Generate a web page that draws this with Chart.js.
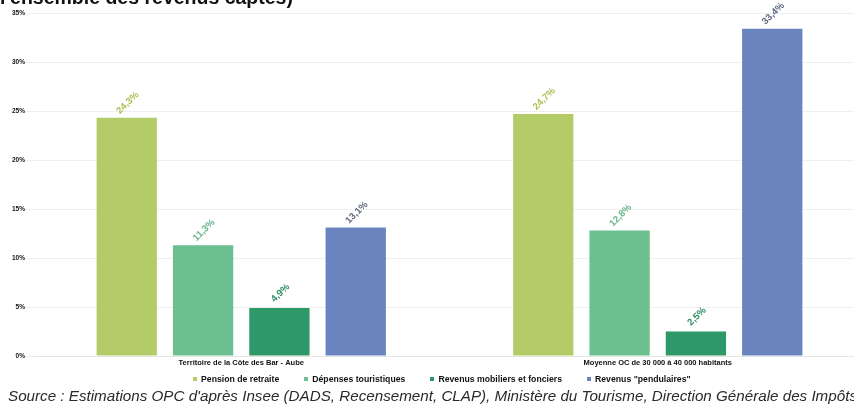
<!DOCTYPE html>
<html lang="fr">
<head>
<meta charset="utf-8">
<script src="https://cdn.jsdelivr.net/npm/chart.js@4/dist/chart.umd.min.js"></script>
<style>
  html, body { margin: 0; padding: 0; background: #fff; overflow: hidden; width: 854px; height: 405px; }
  #wrap { position: relative; width: 854px; height: 405px; overflow: hidden; }
  #chart { position: absolute; left: 0; top: 0; }
  .title { position: absolute; left: 0; top: -14px; font: bold 19.5px "Liberation Sans", Arial, sans-serif; color: #111; white-space: nowrap; }
  .source { position: absolute; left: 8px; top: 387px; font: italic 15.2px "Liberation Sans", Arial, sans-serif; color: #2a2a2a; white-space: nowrap; }
  #legend { position: absolute; left: 193px; top: 374px; display: flex; gap: 25px; font: bold 8.7px "Liberation Sans", Arial, sans-serif; color: #111; white-space: nowrap; }
  #legend span.item { display: flex; align-items: center; }
  #legend i { display: inline-block; width: 4px; height: 4px; margin-right: 4px; }
</style>
</head>
<body>
<div id="wrap">
  <canvas id="chart" width="866" height="405"></canvas>
  <div class="title">l'ensemble des revenus captés)</div>
  <div id="legend"></div>
  <div class="source">Source : Estimations OPC d'après Insee (DADS, Recensement, CLAP), Ministère du Tourisme, Direction Générale des Impôts</div>
</div>
<script>
const categories = ['Territoire de la Côte des Bar - Aube', 'Moyenne OC de 30 000 à 40 000 habitants'];
const seriesNames = ['Pension de retraite', 'Dépenses touristiques', 'Revenus mobiliers et fonciers', 'Revenus "pendulaires"'];
const pension = [24.3, 24.7];
const depenses = [11.3, 12.8];
const mobiliers = [4.9, 2.5];
const pendulaires = [13.1, 33.4];
const yTicks = [0, 5, 10, 15, 20, 25, 30, 35];

const barColors = ['#b4cc68', '#6cbf8e', '#2f9869', '#6a84bf'];
const labelColors = ['#a9c152', '#67b58a', '#2e8c62', '#5f6880'];

// rotated value labels above each bar
const valueLabels = {
  id: 'valueLabels',
  afterDatasetsDraw(chart) {
    const ctx = chart.ctx;
    chart.data.datasets.forEach((ds, i) => {
      chart.getDatasetMeta(i).data.forEach((bar, j) => {
        const txt = ds.data[j].toFixed(1).replace('.', ',') + '%';
        ctx.save();
        ctx.translate(bar.x + 1, bar.y - 15);
        ctx.rotate(-Math.PI / 4);
        ctx.font = 'bold 9.5px "Liberation Sans", Arial, sans-serif';
        ctx.fillStyle = labelColors[i];
        ctx.textAlign = 'center';
        ctx.textBaseline = 'middle';
        ctx.fillText(txt, 0, 0);
        ctx.restore();
      });
    });
  }
};

const series = [pension, depenses, mobiliers, pendulaires];

// legend row under the axis
const legendEl = document.getElementById('legend');
seriesNames.forEach((name, i) => {
  const item = document.createElement('span');
  item.className = 'item';
  const box = document.createElement('i');
  box.style.background = barColors[i];
  item.appendChild(box);
  item.appendChild(document.createTextNode(name));
  legendEl.appendChild(item);
});

new Chart(document.getElementById('chart'), {
  type: 'bar',
  data: {
    labels: categories,
    datasets: series.map((d, i) => ({
      label: seriesNames[i],
      data: d,
      backgroundColor: barColors[i],
      categoryPercentage: 0.733,
      barPercentage: 0.79,
    })),
  },
  options: {
    responsive: false,
    animation: false,
    layout: { padding: { top: 13, bottom: 35, right: 0 } },
    plugins: {
      legend: { display: false },
      tooltip: { enabled: false },
    },
    scales: {
      x: {
        grid: { display: false, drawTicks: false },
        border: { color: '#e6e6e6' },
        ticks: {
          padding: 2,
          color: '#111',
          font: { family: '"Liberation Sans", Arial, sans-serif', size: 7.5, weight: 'bold' },
        },
        afterFit(scale) { scale.height = 14; },
      },
      y: {
        min: 0,
        max: 35,
        afterBuildTicks(scale) { scale.ticks = yTicks.map(v => ({ value: v })); },
        grid: { color: '#efefef' },
        border: { display: false },
        ticks: {
          padding: 0,
          color: '#111',
          font: { family: '"Liberation Sans", Arial, sans-serif', size: 6.5, weight: 'bold' },
          callback: v => v + '%',
        },
        afterFit(scale) { scale.width = 33; },
      },
    },
  },
  plugins: [valueLabels],
});
</script>
</body>
</html>
